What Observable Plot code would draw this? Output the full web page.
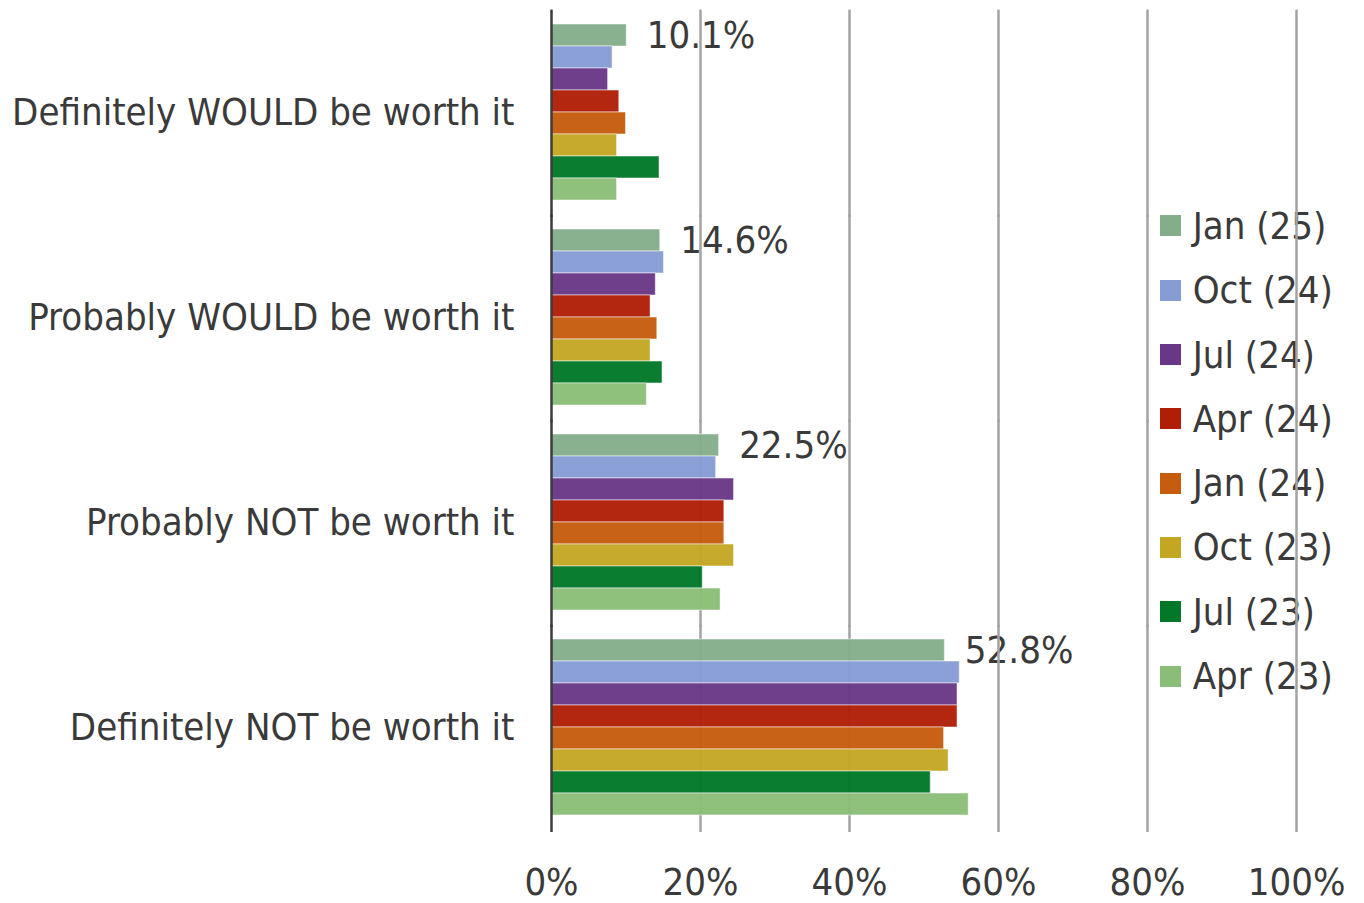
<!DOCTYPE html>
<html>
<head>
<meta charset="utf-8">
<script src="https://cdn.jsdelivr.net/npm/d3@7"></script>
<script src="https://cdn.jsdelivr.net/npm/@observablehq/plot@0.6"></script>
<style>
  html, body { margin: 0; padding: 0; background: #fff; }
  #wrap { position: relative; width: 1364px; height: 903px; font-family: "DejaVu Sans Condensed", "DejaVu Sans", sans-serif; font-stretch: condensed; }
  #chart { position: absolute; left: 0; top: 0; z-index: 1; }
  #chart svg { font-stretch: condensed; }
  #legend { position: absolute; left: 1160px; top: 193.85px; z-index: 0; }
  .row { height: 64.3px; display: flex; align-items: center; }
  .sw { width: 21px; height: 21px; margin-right: 11.7px; flex: none; }
  .lab { font-size: 38px; color: #3a3a3a; white-space: nowrap; line-height: 1; }
</style>
</head>
<body>
<div id="wrap"><div id="legend"></div><div id="chart"></div></div>
<script>
const categories = [
  "Definitely WOULD be worth it",
  "Probably WOULD be worth it",
  "Probably NOT be worth it",
  "Definitely NOT be worth it"
];
const series = ["Jan (25)", "Oct (24)", "Jul (24)", "Apr (24)", "Jan (24)", "Oct (23)", "Jul (23)", "Apr (23)"];
const colors = ["#84ae8a", "#869cd4", "#693787", "#b01e06", "#c65c0e", "#c3a722", "#007828", "#8abe78"];

const jan25 = [10.1, 14.6, 22.5, 52.8];
const oct24 = [8.2, 15.1, 22.1, 54.8];
const jul24 = [7.6, 14.0, 24.5, 54.5];
const apr24 = [9.1, 13.3, 23.2, 54.5];
const jan24 = [10.0, 14.2, 23.2, 52.7];
const oct23 = [8.8, 13.3, 24.5, 53.3];
const jul23 = [14.5, 14.9, 20.3, 50.9];
const apr23 = [8.8, 12.8, 22.7, 56.0];

const xTicks = [0, 20, 40, 60, 80, 100];
const gridTicks = [20, 40, 60, 80, 100];
const labelledSeries = "Jan (25)";

const seriesValues = [jan25, oct24, jul24, apr24, jan24, oct23, jul23, apr23];
const data = [];
series.forEach((s, i) => categories.forEach((c, j) => data.push({series: s, category: c, value: seriesValues[i][j]})));

const FONT = "'DejaVu Sans Condensed', 'DejaVu Sans', sans-serif";

const chart = Plot.plot({
  width: 1364,
  height: 903,
  marginLeft: 551,
  marginRight: 68,
  marginTop: 10,
  marginBottom: 73,
  style: {fontFamily: FONT, fontSize: "38px", color: "#3a3a3a", background: "transparent", overflow: "visible"},
  x: {domain: [0, 100], ticks: xTicks, tickFormat: d => d + "%", tickSize: 0, tickPadding: 50, label: null},
  y: {domain: series, padding: 0, axis: null},
  fy: {domain: categories, paddingInner: 0.11, paddingOuter: 0.055, tickSize: 0, tickPadding: 37, label: null, axis: "left"},
  color: {domain: series, range: colors},
  marks: [
    Plot.text(data.filter(d => d.series === labelledSeries), {x: "value", y: "series", fy: "category", text: d => d.value.toFixed(1) + "%", dx: 20, textAnchor: "start", fontSize: 38, fill: "#3a3a3a"}),
    Plot.ruleX(gridTicks, {stroke: "#a3a3a3", strokeWidth: 2.5, insetTop: -11.4, insetBottom: -14}),
    Plot.barX(data, {x: "value", y: "series", fy: "category", fill: "series", fillOpacity: 0.96, stroke: "#ffffff", strokeOpacity: 0.5, strokeWidth: 1}),
    Plot.ruleX([0], {stroke: "#3a3a3a", strokeWidth: 2.5, insetTop: -11.4, insetBottom: -14})
  ]
});
document.getElementById("chart").appendChild(chart);

const legend = document.getElementById("legend");
series.forEach((s, i) => {
  const row = document.createElement("div");
  row.className = "row";
  row.innerHTML = `<div class="sw" style="background:${colors[i]}"></div><div class="lab">${s}</div>`;
  legend.appendChild(row);
});
</script>
</body>
</html>
